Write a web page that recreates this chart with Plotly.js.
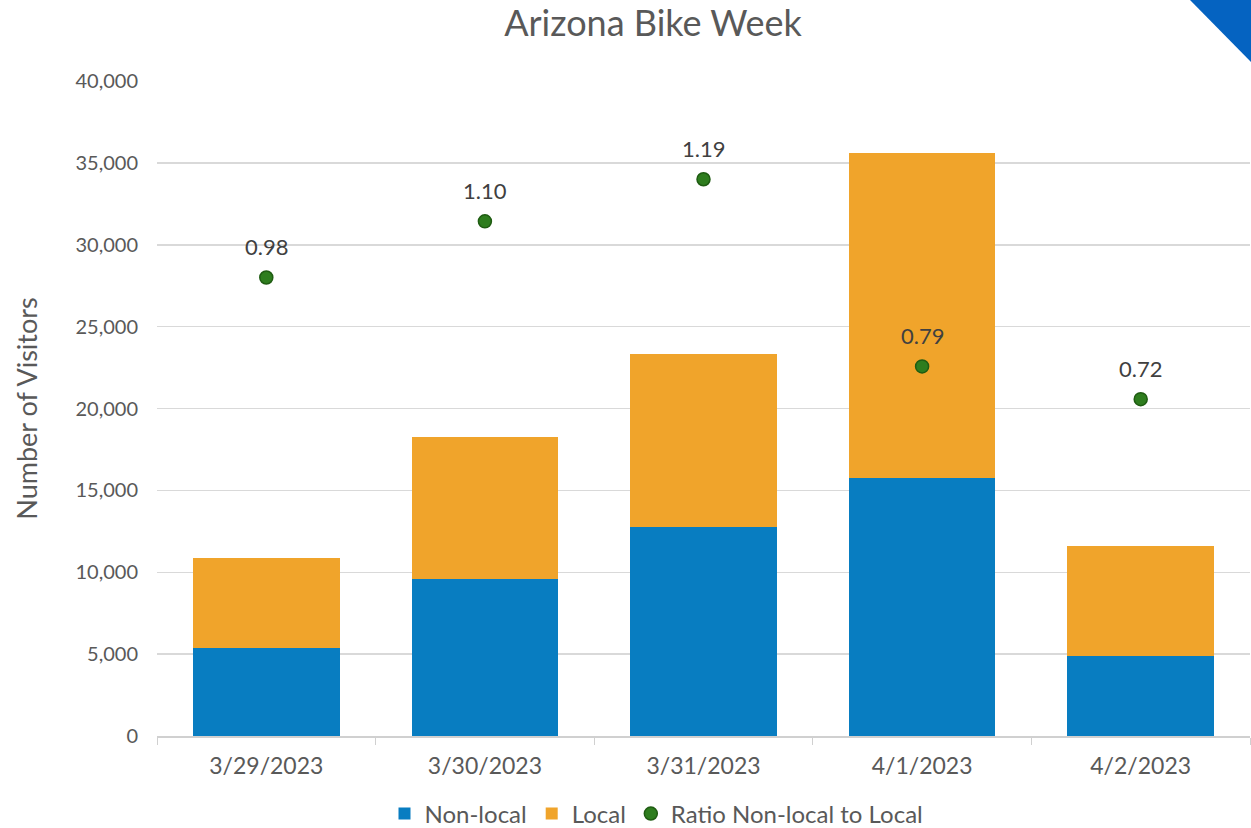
<!DOCTYPE html>
<html>
<head>
<meta charset="utf-8">
<script src="https://cdn.plot.ly/plotly-3.0.1.min.js"></script>
<style>
html,body{margin:0;padding:0;background:#fff;}
#chart{width:1251px;height:828px;position:relative;}
#corner{position:absolute;top:0;right:0;width:61px;height:62px;background:#0563c1;clip-path:polygon(0 0,100% 0,100% 100%);z-index:10;pointer-events:none;}
</style>
</head>
<body>
<div id="chart"><div id="corner"></div></div>
<script>
const dates = ["3/29/2023", "3/30/2023", "3/31/2023", "4/1/2023", "4/2/2023"];
const nonLocal = [5380, 9590, 12760, 15760, 4890];
const local = [5490, 8670, 10570, 19850, 6710];
const ratio = [0.98, 1.10, 1.19, 0.79, 0.72];
const ratioLabels = ["0.98", "1.10", "1.19", "0.79", "0.72"];

const fontFam = "Lato, 'Open Sans', sans-serif";
const grey = "#595959";

const traces = [
  {type: "bar", name: "Non-local", x: dates, y: nonLocal, marker: {color: "#087dc1"}, hoverinfo: "y"},
  {type: "bar", name: "Local", x: dates, y: local, marker: {color: "#f0a42b"}, hoverinfo: "y"},
  {type: "scatter", mode: "markers", name: "Ratio Non-local to Local", x: dates, y: ratio, yaxis: "y2",
   marker: {color: "#2e7d1e", size: 13, line: {color: "#1f5c12", width: 1.5}}}
];

const annotations = dates.map((d, i) => ({
  x: d, y: ratio[i], xref: "x", yref: "y2", text: ratioLabels[i], showarrow: false,
  yshift: 31, font: {size: 22, color: "#404040", family: fontFam}
}));

const layout = {
  width: 1251, height: 828,
  margin: {l: 157, r: 1, t: 81, b: 92},
  paper_bgcolor: "#fff", plot_bgcolor: "#fff",
  font: {family: fontFam, color: grey},
  barmode: "stack",
  bargap: 0.33,
  title: {text: "Arizona Bike Week", x: 0.522, xanchor: "center", y: 0.972, yanchor: "middle",
          font: {size: 36, color: grey, family: fontFam}},
  xaxis: {type: "category", tickson: "boundaries", ticks: "outside", ticklen: 7, tickcolor: "#d0d0d0",
          showline: true, linecolor: "#d0d0d0", linewidth: 1.5, showgrid: false, ticklabelstandoff: 9,
          tickfont: {size: 23, color: grey}, fixedrange: true},
  yaxis: {range: [0, 40000], dtick: 5000, tickformat: ",d", showgrid: true, gridcolor: "#d9d9d9", gridwidth: 1.5,
          zeroline: false, showline: false, ticks: "", ticklabelstandoff: 18,
          tickfont: {size: 20, color: grey},
          title: {text: "Number of Visitors", font: {size: 27, color: grey}, standoff: 30}},
  yaxis2: {overlaying: "y", range: [0, 1.4], visible: false, showgrid: false},
  showlegend: true,
  legend: {orientation: "h", x: 0.457, xanchor: "center", yref: "container", y: 0.017, yanchor: "middle",
           font: {size: 24, color: grey}, itemwidth: 30, traceorder: "normal"},
  annotations: annotations
};

Plotly.newPlot("chart", traces, layout, {displayModeBar: false, staticPlot: true});
</script>
</body>
</html>
